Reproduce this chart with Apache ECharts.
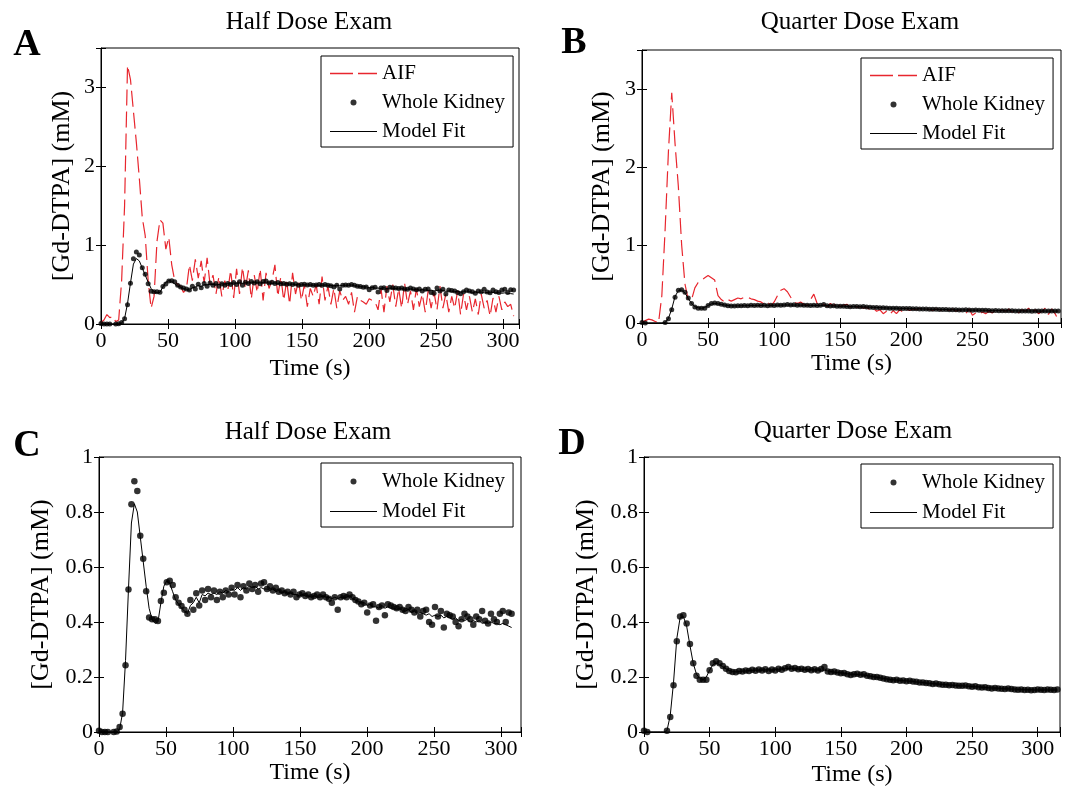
<!DOCTYPE html>
<html>
<head>
<meta charset="utf-8">
<title>Gd-DTPA curves</title>
<script src="https://cdn.jsdelivr.net/npm/echarts/dist/echarts.min.js"></script>
<style>
  html, body { margin: 0; padding: 0; background: #fff; }
  #chart { width: 1087px; height: 794px; }
</style>
</head>
<body>
<div id="chart"></div>
<script>
// frame spacing (s) of the two exams
const halfStep = 2.2;
const quarterStep = 2.5;

// half dose exam, one value per frame
const aifHalf = [
  0.02, 0.05, 0.12, 0.08, 0.10, 0.03, 0.05, 0.55, 1.50, 3.28,
  3.10, 2.70, 2.30, 1.85, 1.35, 1.12, 0.55, 0.20, 0.35, 1.05,
  1.32, 1.28, 0.95, 1.10, 0.75, 0.55, 0.50, 0.48, 0.40, 0.45,
  0.75, 0.55, 0.82, 0.58, 0.80, 0.52, 0.84, 0.50, 0.62, 0.38,
  0.60, 0.35, 0.55, 0.42, 0.68, 0.33, 0.70, 0.38, 0.72, 0.45,
  0.68, 0.32, 0.62, 0.40, 0.70, 0.30, 0.65, 0.45, 0.55, 0.75,
  0.35, 0.60, 0.30, 0.55, 0.25, 0.65, 0.38, 0.55, 0.30, 0.50,
  0.22, 0.45, 0.35, 0.50, 0.25, 0.60, 0.30, 0.48, 0.25, 0.45,
  0.20, 0.42, 0.30, 0.35, 0.25, 0.40, 0.15, 0.35, 0.30, 0.28,
  0.25, 0.32, 0.30, 0.28, 0.18, 0.45, 0.15, 0.48, 0.28, 0.50,
  0.22, 0.45, 0.20, 0.52, 0.25, 0.42, 0.18, 0.45, 0.22, 0.38,
  0.15, 0.42, 0.20, 0.40, 0.18, 0.48, 0.20, 0.38, 0.15, 0.35,
  0.20, 0.42, 0.12, 0.38, 0.18, 0.35, 0.15, 0.32, 0.12, 0.38,
  0.20, 0.30, 0.10, 0.33, 0.15, 0.35, 0.18, 0.28, 0.22, 0.25,
  0.10
];
const kidneyHalf = [
  0.005, 0.00, 0.00, 0.00, -0.002, 0.00, 0.002, 0.018, 0.066, 0.243,
  0.518, 0.828, 0.912, 0.876, 0.714, 0.630, 0.512, 0.416, 0.410, 0.410,
  0.404, 0.476, 0.506, 0.545, 0.550, 0.535, 0.490, 0.470, 0.458, 0.445,
  0.430, 0.480, 0.445, 0.505, 0.460, 0.515, 0.480, 0.520, 0.490, 0.515,
  0.480, 0.510, 0.490, 0.515, 0.500, 0.525, 0.500, 0.535, 0.490, 0.530,
  0.515, 0.540, 0.520, 0.535, 0.510, 0.540, 0.545, 0.520, 0.530, 0.515,
  0.525, 0.510, 0.515, 0.505, 0.510, 0.500, 0.510, 0.490, 0.500, 0.505,
  0.495, 0.500, 0.490, 0.495, 0.500, 0.490, 0.500, 0.490, 0.485, 0.470,
  0.490, 0.445, 0.490, 0.495, 0.490, 0.500, 0.490, 0.480, 0.475, 0.465,
  0.470, 0.435, 0.460, 0.465, 0.405, 0.455, 0.460, 0.425, 0.465, 0.460,
  0.455, 0.450, 0.455, 0.445, 0.440, 0.455, 0.445, 0.435, 0.445, 0.420,
  0.440, 0.445, 0.400, 0.390, 0.455, 0.420, 0.440, 0.380, 0.430, 0.425,
  0.420, 0.400, 0.385, 0.410, 0.430, 0.420, 0.410, 0.390, 0.420, 0.410,
  0.440, 0.405, 0.395, 0.430, 0.410, 0.400, 0.430, 0.440, 0.400, 0.435,
  0.430
];
const fitHalf = [
  0.00, 0.00, 0.00, 0.00, 0.00, 0.00, 0.00, 0.01, 0.07, 0.26,
  0.52, 0.76, 0.83, 0.80, 0.71, 0.62, 0.53, 0.45, 0.41, 0.395,
  0.40, 0.47, 0.53, 0.55, 0.54, 0.51, 0.48, 0.465, 0.45, 0.44,
  0.43, 0.46, 0.47, 0.49, 0.47, 0.50, 0.495, 0.505, 0.50, 0.505,
  0.50, 0.51, 0.505, 0.515, 0.51, 0.52, 0.515, 0.525, 0.515, 0.525,
  0.52, 0.53, 0.525, 0.53, 0.52, 0.525, 0.52, 0.52, 0.515, 0.52,
  0.51, 0.515, 0.505, 0.51, 0.505, 0.505, 0.50, 0.50, 0.495, 0.50,
  0.495, 0.495, 0.49, 0.495, 0.49, 0.49, 0.495, 0.49, 0.49, 0.485,
  0.49, 0.485, 0.49, 0.49, 0.49, 0.495, 0.485, 0.48, 0.475, 0.47,
  0.47, 0.46, 0.465, 0.455, 0.455, 0.45, 0.46, 0.45, 0.455, 0.45,
  0.45, 0.445, 0.45, 0.44, 0.44, 0.445, 0.435, 0.44, 0.43, 0.435,
  0.43, 0.425, 0.43, 0.42, 0.425, 0.42, 0.425, 0.415, 0.42, 0.415,
  0.41, 0.415, 0.405, 0.41, 0.405, 0.41, 0.40, 0.405, 0.40, 0.405,
  0.395, 0.40, 0.395, 0.40, 0.395, 0.395, 0.39, 0.395, 0.39, 0.385,
  0.38
];

// quarter dose exam, one value per frame
const aifQuarter = [
  0.01, 0.03, 0.05, 0.04, 0.02, 0.00, 0.35, 1.20, 2.20, 2.95,
  2.30, 1.75, 1.00, 0.50, 0.30, 0.30, 0.45, 0.52, 0.55, 0.58,
  0.61, 0.58, 0.55, 0.35, 0.30, 0.27, 0.30, 0.28, 0.30, 0.32,
  0.31, 0.33, 0.33, 0.31, 0.30, 0.28, 0.27, 0.24, 0.27, 0.22,
  0.27, 0.35, 0.42, 0.44, 0.40, 0.33, 0.27, 0.25, 0.27, 0.24,
  0.22, 0.30, 0.37, 0.25, 0.22, 0.24, 0.21, 0.25, 0.22, 0.27,
  0.21, 0.23, 0.24, 0.20, 0.25, 0.20, 0.21, 0.19, 0.20, 0.17,
  0.19, 0.15, 0.17, 0.12, 0.15, 0.11, 0.16, 0.12, 0.17, 0.14,
  0.18, 0.16, 0.18, 0.17, 0.19, 0.16, 0.18, 0.17, 0.16, 0.18,
  0.17, 0.15, 0.17, 0.16, 0.18, 0.15, 0.17, 0.14, 0.12, 0.18,
  0.10, 0.13, 0.11, 0.14, 0.12, 0.15, 0.13, 0.16, 0.14, 0.17,
  0.15, 0.18, 0.14, 0.16, 0.13, 0.17, 0.15, 0.19, 0.13, 0.17,
  0.12, 0.15, 0.19, 0.11, 0.18, 0.12, 0.04
];
const kidneyQuarter = [
  0.005, 0.00, -0.005, -0.005, -0.003, -0.005, -0.006, 0.005, 0.055, 0.17,
  0.33, 0.42, 0.425, 0.395, 0.32, 0.25, 0.205, 0.19, 0.19, 0.19,
  0.225, 0.25, 0.257, 0.25, 0.24, 0.23, 0.222, 0.218, 0.217, 0.222,
  0.22, 0.224, 0.222, 0.226, 0.223, 0.227, 0.224, 0.228, 0.222, 0.227,
  0.224, 0.23, 0.226, 0.232, 0.236, 0.23, 0.233, 0.228, 0.23, 0.226,
  0.229, 0.225, 0.228, 0.224, 0.229, 0.236, 0.22, 0.218, 0.22, 0.216,
  0.214, 0.215, 0.21, 0.207, 0.21, 0.212, 0.208, 0.21, 0.205, 0.203,
  0.20, 0.20, 0.197, 0.195, 0.192, 0.19, 0.188, 0.19, 0.186, 0.187,
  0.185, 0.186, 0.184, 0.183, 0.18, 0.18, 0.178, 0.177, 0.175, 0.176,
  0.174, 0.172, 0.172, 0.17, 0.171, 0.169, 0.168, 0.168, 0.169, 0.166,
  0.165, 0.166, 0.163, 0.162, 0.163, 0.16, 0.158, 0.16, 0.158, 0.157,
  0.156, 0.158, 0.156, 0.155, 0.154, 0.155, 0.153, 0.154, 0.152, 0.153,
  0.155, 0.154, 0.153, 0.155, 0.154, 0.153, 0.155
];
const fitQuarter = [
  0.00, 0.00, 0.00, 0.00, 0.00, 0.00, 0.00, 0.005, 0.06, 0.18,
  0.34, 0.415, 0.42, 0.385, 0.315, 0.25, 0.21, 0.195, 0.19, 0.20,
  0.225, 0.245, 0.25, 0.245, 0.237, 0.23, 0.224, 0.22, 0.219, 0.22,
  0.221, 0.222, 0.223, 0.224, 0.224, 0.225, 0.225, 0.226, 0.226, 0.226,
  0.227, 0.228, 0.229, 0.23, 0.231, 0.23, 0.23, 0.229, 0.228, 0.228,
  0.227, 0.226, 0.226, 0.225, 0.225, 0.224, 0.222, 0.22, 0.218, 0.216,
  0.215, 0.214, 0.212, 0.21, 0.21, 0.209, 0.208, 0.207, 0.205, 0.203,
  0.201, 0.199, 0.197, 0.195, 0.193, 0.191, 0.19, 0.189, 0.188, 0.187,
  0.186, 0.185, 0.184, 0.182, 0.181, 0.18, 0.178, 0.177, 0.176, 0.175,
  0.174, 0.173, 0.172, 0.171, 0.17, 0.169, 0.168, 0.168, 0.167, 0.166,
  0.165, 0.165, 0.164, 0.163, 0.162, 0.161, 0.16, 0.16, 0.159, 0.158,
  0.157, 0.157, 0.156, 0.156, 0.155, 0.155, 0.154, 0.154, 0.154, 0.153,
  0.153, 0.153, 0.153, 0.153, 0.153, 0.153, 0.153
];

const serif = '"Liberation Serif", "Times New Roman", serif';
const aifRed = '#e8262e';

function toPairs(values, step) {
  return values.map((v, i) => [Math.round(i * step * 10) / 10, v]);
}

// plot boxes [left, top, width, height] and axis ranges per panel
const panels = [
  { grid: [101, 48, 418, 276], xMax: 312, yMax: 3.5, yStep: 1, yGap: 26, xGap: 33 },
  { grid: [642, 50, 419, 273], xMax: 317, yMax: 3.5, yStep: 1, yGap: 27, xGap: 29 },
  { grid: [99, 457, 422, 275], xMax: 315, yMax: 1, yStep: 0.2, yGap: 45, xGap: 27 },
  { grid: [644, 457, 416, 275], xMax: 317, yMax: 1, yStep: 0.2, yGap: 45, xGap: 31 }
];

const tickStyle = { inside: true, length: 5, lineStyle: { color: '#000', width: 1 } };

let grids = [], xAxes = [], yAxes = [];
panels.forEach((p, gi) => {
  grids.push({
    left: p.grid[0], top: p.grid[1], width: p.grid[2], height: p.grid[3],
    show: true, borderColor: '#000', borderWidth: 1
  });
  const xBase = {
    type: 'value', gridIndex: gi, min: 0, max: p.xMax, interval: 50,
    splitLine: { show: false }, axisTick: tickStyle
  };
  xAxes.push(Object.assign({}, xBase, {
    position: 'bottom',
    name: 'Time (s)', nameLocation: 'middle', nameGap: p.xGap,
    nameTextStyle: { color: '#000', fontSize: 24, fontFamily: serif },
    axisLine: { show: true, lineStyle: { color: '#000', width: 1 } },
    axisLabel: {
      color: '#000', fontSize: 22, fontFamily: serif, margin: 6,
      formatter: v => (v % 50 === 0 ? String(v) : '')
    }
  }));
  xAxes.push(Object.assign({}, xBase, {
    position: 'top', axisLine: { show: false }, axisLabel: { show: false }
  }));
  const yBase = {
    type: 'value', gridIndex: gi, min: 0, max: p.yMax, interval: p.yStep,
    splitLine: { show: false }, axisTick: tickStyle
  };
  yAxes.push(Object.assign({}, yBase, {
    position: 'left',
    name: '[Gd-DTPA] (mM)', nameLocation: 'middle', nameGap: p.yGap,
    nameTextStyle: { color: '#000', fontSize: 26, fontFamily: serif },
    axisLine: { show: true, lineStyle: { color: '#000', width: 1 } },
    axisLabel: {
      color: '#000', fontSize: 22, fontFamily: serif, margin: 6,
      formatter: v => {
        const k = v / p.yStep;
        return Math.abs(k - Math.round(k)) < 1e-6 ? String(+v.toFixed(1)) : '';
      }
    }
  }));
  yAxes.push(Object.assign({}, yBase, {
    position: 'right', axisLine: { show: false }, axisLabel: { show: false }
  }));
});

function aifSeries(gi, values, step) {
  return {
    name: 'AIF', type: 'line', xAxisIndex: gi * 2, yAxisIndex: gi * 2,
    data: toPairs(values, step), symbol: 'none', z: 2,
    itemStyle: { color: aifRed },
    lineStyle: { color: aifRed, width: 1.2, type: [16, 6] }
  };
}
function kidneySeries(gi, values, step, size) {
  return {
    name: 'Whole Kidney', type: 'scatter', xAxisIndex: gi * 2, yAxisIndex: gi * 2,
    data: toPairs(values, step), symbol: 'circle', symbolSize: size, z: 3,
    itemStyle: { color: '#000' }
  };
}
function fitSeries(gi, values, step) {
  return {
    name: 'Model Fit', type: 'line', xAxisIndex: gi * 2, yAxisIndex: gi * 2,
    data: toPairs(values, step), symbol: 'none', z: 4,
    itemStyle: { color: '#000' },
    lineStyle: { color: '#000', width: 1 }
  };
}

const series = [
  aifSeries(0, aifHalf, halfStep), kidneySeries(0, kidneyHalf, halfStep, 5), fitSeries(0, fitHalf, halfStep),
  aifSeries(1, aifQuarter, quarterStep), kidneySeries(1, kidneyQuarter, quarterStep, 5), fitSeries(1, fitQuarter, quarterStep),
  kidneySeries(2, kidneyHalf, halfStep, 6.5), fitSeries(2, fitHalf, halfStep),
  kidneySeries(3, kidneyQuarter, quarterStep, 6.5), fitSeries(3, fitQuarter, quarterStep)
];

const legendItems = {
  aif: { name: 'AIF', icon: 'path://M0,0L23,0L23,1.4L0,1.4Z M28,0L47,0L47,1.4L28,1.4Z', itemStyle: { color: aifRed, borderWidth: 0 } },
  kidney: { name: 'Whole Kidney', icon: 'circle', itemStyle: { color: '#000', borderWidth: 0 } },
  fit: { name: 'Model Fit', icon: 'path://M0,0L47,0L47,1.2L0,1.2Z', itemStyle: { color: '#000', borderWidth: 0 } }
};
function legendAt(left, top, items, pad, gap) {
  return {
    orient: 'vertical', left, top, padding: pad, itemGap: gap,
    itemWidth: 47, itemHeight: 6, selectedMode: false,
    borderColor: '#000', borderWidth: 1, backgroundColor: '#fff',
    itemStyle: { borderWidth: 0 },
    textStyle: { color: '#000', fontSize: 21, fontFamily: serif },
    data: items
  };
}

const labels = [
  { text: 'Half Dose Exam', x: 309, y: 22, size: 25, bold: false },
  { text: 'Quarter Dose Exam', x: 860, y: 22, size: 25, bold: false },
  { text: 'Half Dose Exam', x: 308, y: 432, size: 25, bold: false },
  { text: 'Quarter Dose Exam', x: 853, y: 431, size: 25, bold: false },
  { text: 'A', x: 27, y: 45, size: 38, bold: true },
  { text: 'B', x: 574, y: 43, size: 38, bold: true },
  { text: 'C', x: 27, y: 446, size: 38, bold: true },
  { text: 'D', x: 572, y: 444, size: 38, bold: true }
];

const chart = echarts.init(document.getElementById('chart'));
chart.setOption({
  animation: false,
  backgroundColor: '#fff',
  grid: grids,
  xAxis: xAxes,
  yAxis: yAxes,
  legend: [
    legendAt(321, 56, [legendItems.aif, legendItems.kidney, legendItems.fit], [7, 8, 5, 9], 8),
    legendAt(861, 58, [legendItems.aif, legendItems.kidney, legendItems.fit], [7, 8, 5, 9], 8),
    legendAt(321, 463, [legendItems.kidney, legendItems.fit], [8, 8, 5, 9], 9),
    legendAt(861, 464, [legendItems.kidney, legendItems.fit], [8, 8, 5, 9], 9)
  ],
  graphic: labels.map(l => ({
    type: 'text', x: l.x, y: l.y,
    style: {
      text: l.text, fill: '#000',
      font: (l.bold ? 'bold ' : '') + l.size + 'px ' + serif,
      align: 'center', verticalAlign: 'middle'
    }
  })),
  series
});
</script>
</body>
</html>
